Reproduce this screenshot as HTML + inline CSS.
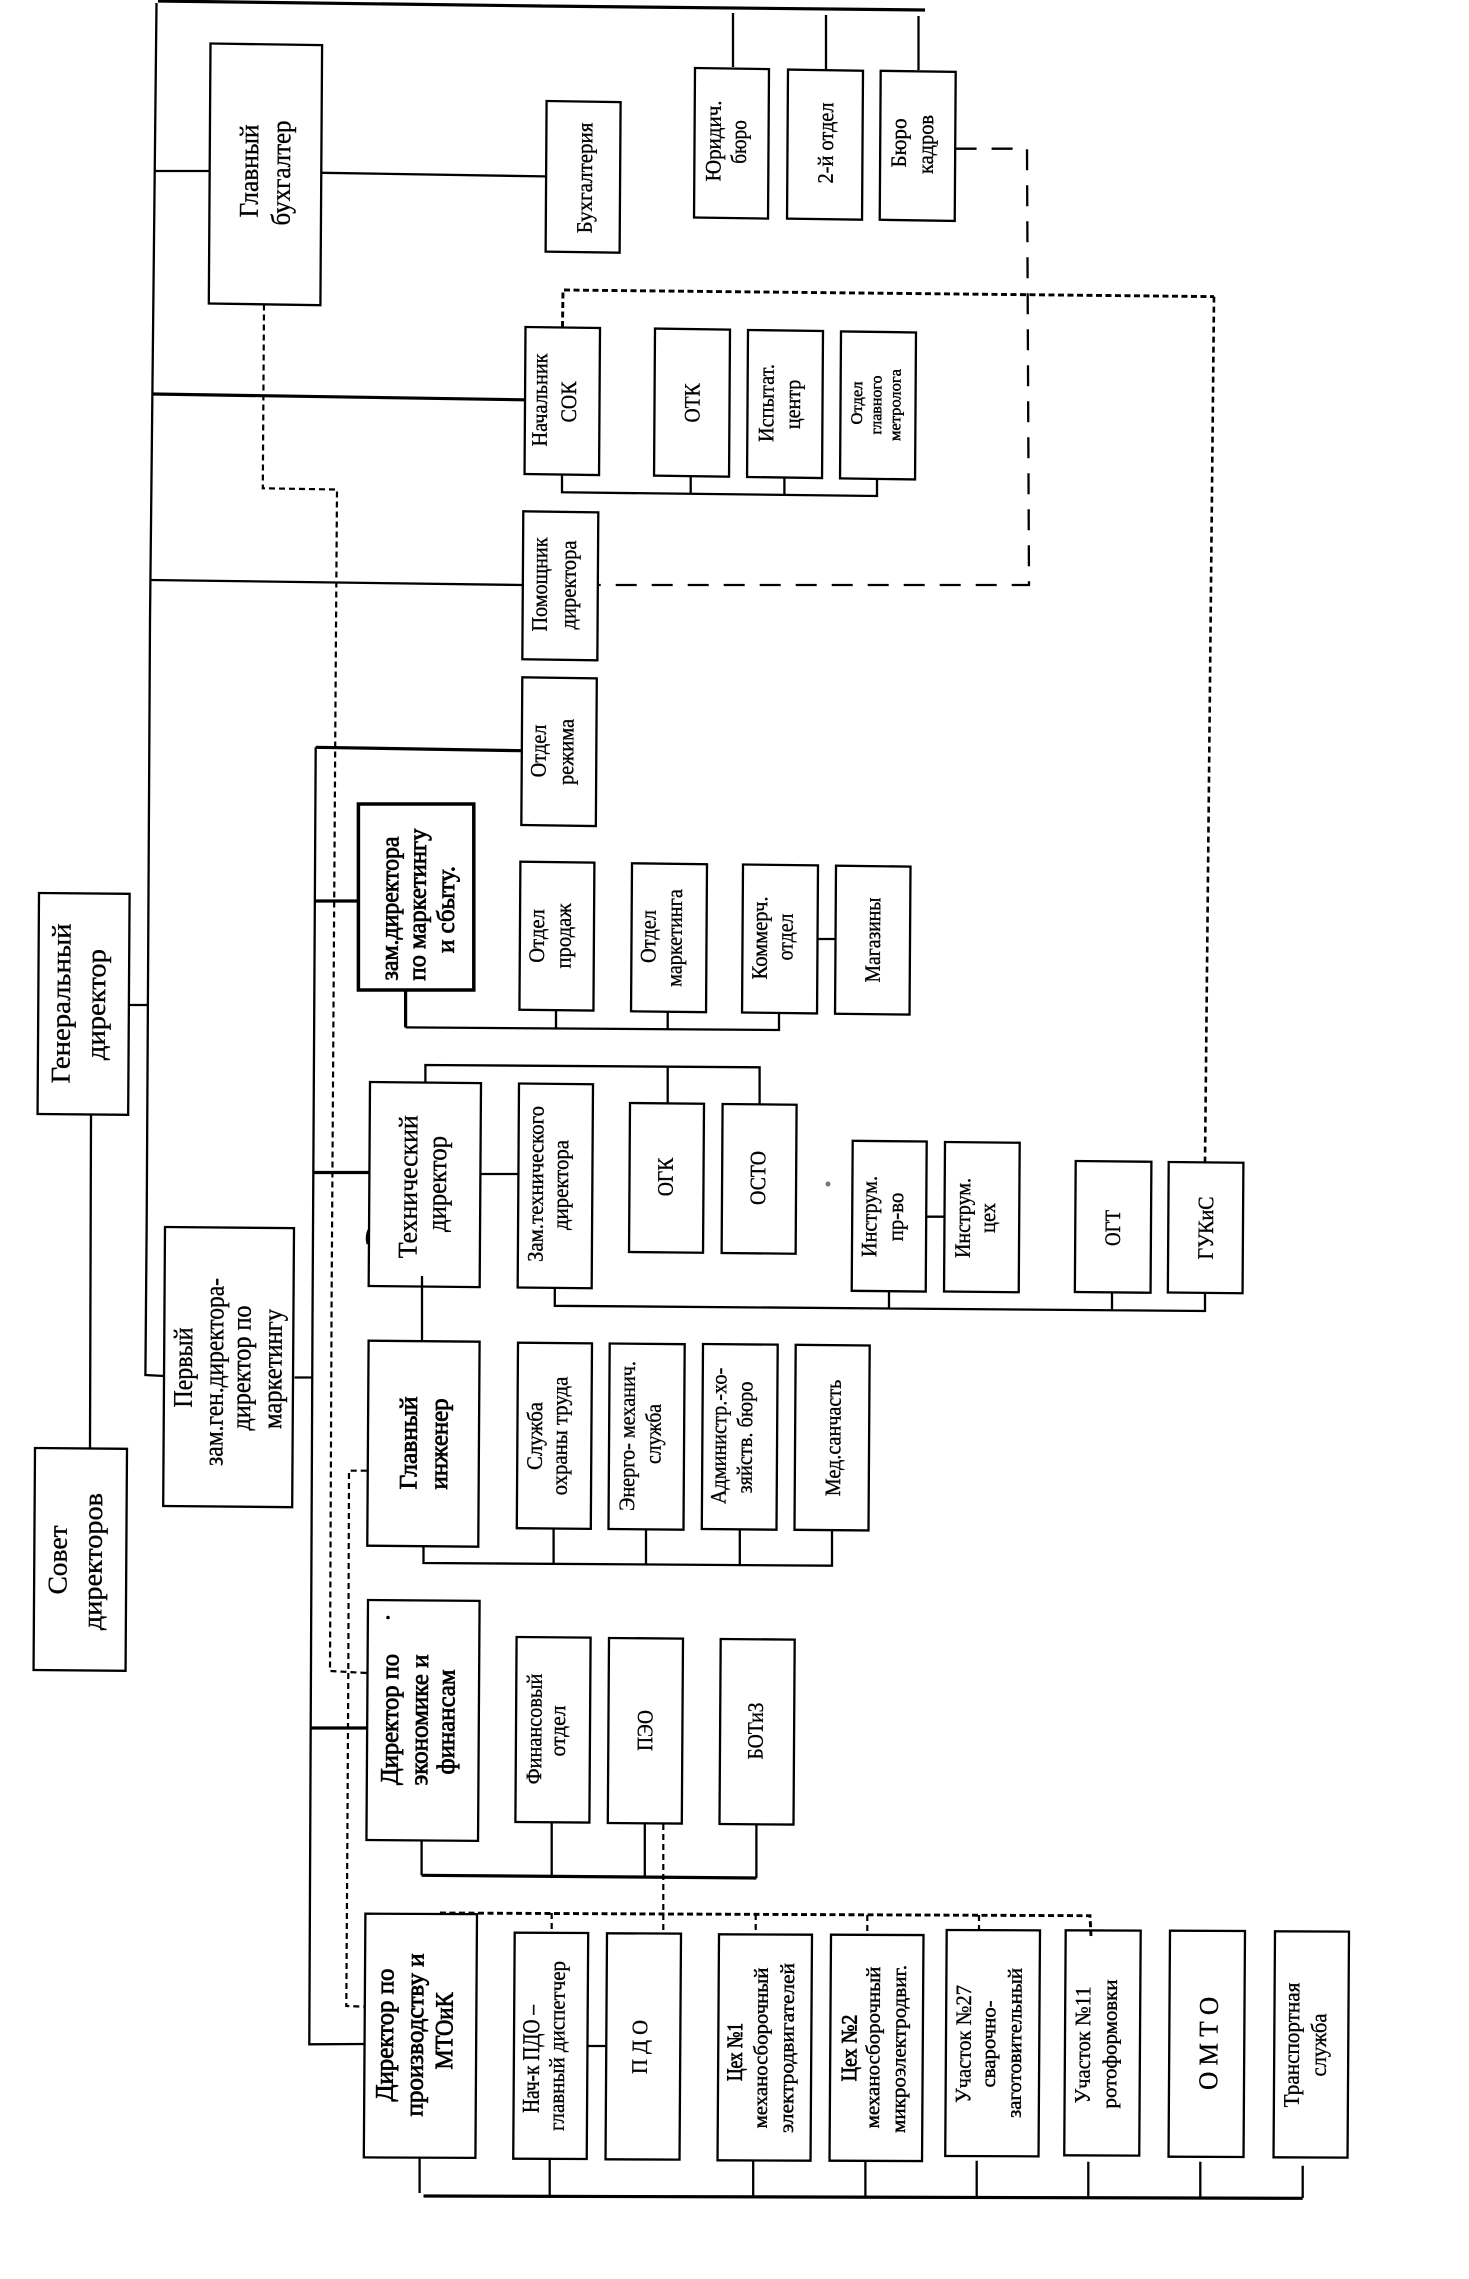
<!DOCTYPE html>
<html><head><meta charset="utf-8"><style>
html,body{margin:0;padding:0;background:#fff}
svg{display:block}
rect{fill:none;stroke:#000;stroke-width:2.300}
path{fill:none;stroke:#000;stroke-width:2.300}
.t{stroke-width:3.200}
.d1{stroke-dasharray:6 4;stroke-width:2.200}
.d2{stroke-dasharray:6 3.500;stroke-width:2.900}
.d3{stroke-dasharray:21 15;stroke-width:2.300}
text{font-family:"Liberation Serif","Noto Serif CJK SC",serif;text-anchor:middle;fill:#000;stroke:#000;stroke-width:.35}
.a{font-size:27px}.b{font-size:22px}.c{font-size:16px;stroke-width:.45}.e{font-size:25px;stroke-width:.8}.s{font-size:20px;stroke-width:.45}
</style></head><body>
<svg width="1469" height="2279" viewBox="0 0 1469 2279" xmlns="http://www.w3.org/2000/svg">
<!-- boxes -->
<g transform="matrix(1,.015,-.0065,1,210.5,43.5)"><rect width="111.6" height="260"/></g>
<g transform="matrix(1,.015,-.0065,1,546.6,101)"><rect width="74" height="150.6"/></g>
<g transform="matrix(1,.015,-.0065,1,695,68)"><rect width="74" height="149.5"/></g>
<g transform="matrix(1,.015,-.0065,1,788,69.6)"><rect width="75" height="149"/></g>
<g transform="matrix(1,.015,-.0065,1,880.7,70.8)"><rect width="75" height="149"/></g>
<g transform="matrix(1,.014,-.0065,1,525.5,327)"><rect width="74.5" height="147"/></g>
<g transform="matrix(1,.014,-.0065,1,655,328.6)"><rect width="75" height="147"/></g>
<g transform="matrix(1,.014,-.0065,1,748,330)"><rect width="75" height="147"/></g>
<g transform="matrix(1,.014,-.0065,1,841,331.4)"><rect width="75" height="147"/></g>
<g transform="matrix(1,.014,-.0065,1,523.3,511.3)"><rect width="75" height="148"/></g>
<g transform="matrix(1,.014,-.0065,1,522.3,677.3)"><rect width="74.5" height="147.7"/></g>
<rect x="358.4" y="804" width="115.4" height="186" style="stroke-width:3.5"/>
<g transform="matrix(1,.012,-.0065,1,520.4,861.7)"><rect width="74" height="148"/></g>
<g transform="matrix(1,.012,-.0065,1,632,863.3)"><rect width="75" height="148"/></g>
<g transform="matrix(1,.012,-.0065,1,743,864.5)"><rect width="75" height="148"/></g>
<g transform="matrix(1,.012,-.0065,1,836,865.7)"><rect width="74.5" height="148"/></g>
<g transform="matrix(1,.01,-.0065,1,370,1082)"><rect width="111" height="204"/></g>
<g transform="matrix(1,.01,-.0065,1,519,1083.5)"><rect width="74" height="204"/></g>
<g transform="matrix(1,.01,-.0065,1,630,1103)"><rect width="74" height="149"/></g>
<g transform="matrix(1,.01,-.0065,1,722.6,1104)"><rect width="74" height="149"/></g>
<g transform="matrix(1,.01,-.0065,1,852.7,1140.8)"><rect width="74" height="150"/></g>
<g transform="matrix(1,.01,-.0065,1,945,1142)"><rect width="74.7" height="149.5"/></g>
<g transform="matrix(1,.01,-.0065,1,1075.7,1161)"><rect width="75.7" height="131"/></g>
<g transform="matrix(1,.01,-.0065,1,1168.7,1162)"><rect width="74.7" height="130.5"/></g>
<g transform="matrix(1,.009,-.0065,1,165,1227)"><rect width="129" height="279"/></g>
<g transform="matrix(1,.009,-.0065,1,39,893)"><rect width="90.6" height="221"/></g>
<g transform="matrix(1,.009,-.0065,1,35,1448)"><rect width="92" height="222"/></g>
<g transform="matrix(1,.009,-.0065,1,368.6,1340.7)"><rect width="111" height="205"/></g>
<g transform="matrix(1,.009,-.0065,1,518,1342.7)"><rect width="74" height="185.5"/></g>
<g transform="matrix(1,.009,-.0065,1,609.7,1343.5)"><rect width="75" height="185.5"/></g>
<g transform="matrix(1,.009,-.0065,1,703,1344)"><rect width="74.7" height="185"/></g>
<g transform="matrix(1,.009,-.0065,1,795.7,1344.8)"><rect width="74" height="185"/></g>
<g transform="matrix(1,.008,-.0065,1,368,1600)"><rect width="111.6" height="240"/></g>
<g transform="matrix(1,.008,-.0065,1,516.6,1637)"><rect width="74" height="185"/></g>
<g transform="matrix(1,.008,-.0065,1,609,1638)"><rect width="74" height="185"/></g>
<g transform="matrix(1,.008,-.0065,1,720.7,1639)"><rect width="74" height="185"/></g>
<g transform="matrix(1,.004,-.0065,1,365.4,1913.7)"><rect width="111.6" height="243.7"/></g>
<g transform="matrix(1,.004,-.0065,1,514.7,1932.7)"><rect width="73.5" height="226"/></g>
<g transform="matrix(1,.004,-.0065,1,607,1933.3)"><rect width="74" height="226"/></g>
<g transform="matrix(1,.004,-.0065,1,719,1934.3)"><rect width="93" height="226"/></g>
<g transform="matrix(1,.004,-.0065,1,831,1934.7)"><rect width="92.5" height="226"/></g>
<g transform="matrix(1,.004,-.0065,1,946.7,1930)"><rect width="93.3" height="226"/></g>
<g transform="matrix(1,.004,-.0065,1,1065.7,1930.3)"><rect width="75" height="225"/></g>
<g transform="matrix(1,.004,-.0065,1,1170,1930.7)"><rect width="75" height="226"/></g>
<g transform="matrix(1,.004,-.0065,1,1275,1931.3)"><rect width="74" height="226"/></g>
<!-- solid connectors -->
<path class="t" d="M158 1 L542 6 M542 6 L925 10"/>
<path d="M156.500 3 L150 620 L146.700 1220 L145.400 1375 L164.500 1376"/>
<path d="M155 171 H209 M322 172.800 L545 176.400 M150 580 L523 585"/>
<path class="t" d="M153 394 L524 399.800"/>
<path d="M733 13 V67 M826 15 V69 M918.500 16 V70"/>
<path d="M562 474.500 V492.300 L877 496 V478.500 M690.700 475.700 V493.500 M784.400 477 V494.700"/>
<path class="t" d="M315.700 747.300 L521.700 750.700"/>
<path d="M315.700 747.300 L312.500 1320 L309.300 2044.300 L365.400 2044"/>
<path class="t" d="M315.700 901 H358"/>
<path class="t" d="M405.600 990 V1027.400"/>
<path d="M405.600 1027.400 L779 1030 V1012.500 M556 1010 V1028.500 M667.700 1011.600 V1029.400 M817.600 939 H835.500"/>
<path d="M129.500 1005 H148 M91 1114 L90 1448 M294.600 1377.500 H312.500"/>
<path class="t" d="M313.800 1172.500 H368.600"/>
<path d="M481.500 1174 H518.500 M425.400 1082 V1065 L759.600 1067.300 V1104 M667.700 1066 V1103"/>
<path d="M422 1276 V1340.700 M554.800 1287.600 V1305.800 L1205 1311 V1292.600 M889 1290.600 V1309 M1112 1292.600 V1310.400 M927 1216.700 H945"/>
<path d="M423.500 1546 V1563 L832 1565.700 V1530 M553.600 1528 V1564 M646 1529 V1564.500 M739.800 1529.300 V1565"/>
<path class="t" d="M310.600 1728 H366.700"/>
<path d="M421.600 1840 V1875.300 M551.700 1822 V1875.500 M644.800 1823 V1876.500 M756.400 1824 V1878"/>
<path class="t" d="M421.600 1875.300 L756.400 1878"/>
<path d="M588 2046 H607 M419.600 2157 V2193"/>
<path class="t" d="M423.500 2196 L1302.700 2198.300"/>
<path d="M549.700 2159 V2196.700 M753.200 2160 V2197 M865.400 2160.700 V2197 M976.700 2160.700 V2198 M1088.300 2161.700 V2198 M1200.300 2161.700 V2198 M1302.700 2165.700 V2198"/>
<!-- dashed connectors -->
<path class="d1" d="M264 304.500 L262.800 488.300 L337 489.500 L335.500 700 L331.600 1300 L330 1671 L366.700 1673"/>
<path class="d1" d="M366.700 1470.700 H349 L348.300 1671.700 L347.600 1800 L346.300 2006 L365.400 2006.700"/>
<path class="d2" d="M440 1913 L663 1914 L1090 1915.700 L1091 1936"/>
<path class="d1" d="M551.700 1913 V1932 M663.300 1824 V1933 M755.700 1914 V1933 M867.300 1915 V1933 M979 1915 V1935"/>
<path class="d2" d="M562.500 327 L563 290 L1214 296.600"/>
<path class="d1" style="stroke-width:2.600" d="M1214 296.600 L1205 1162"/>
<path class="d3" d="M955.600 148.700 H1027 L1029 585 H598"/>
<!-- specks -->
<path d="M369 1230 q-3 7 -1 14" style="stroke-width:3"/>
<circle cx="828" cy="1184" r="2.500" fill="#777"/><circle cx="388" cy="1617.500" r="1.800"/>
<!-- labels -->
<text class="a" transform="translate(258,171) rotate(-89.6)" textLength="93" lengthAdjust="spacingAndGlyphs">Главный</text>
<text class="a" transform="translate(290,173) rotate(-89.6)" textLength="105" lengthAdjust="spacingAndGlyphs">бухгалтер</text>
<text class="b" transform="translate(592,178) rotate(-89.6)" textLength="110.700" lengthAdjust="spacingAndGlyphs">Бухгалтерия</text>
<text class="b" transform="translate(720.600,141) rotate(-89.6)" textLength="81" lengthAdjust="spacingAndGlyphs">Юридич.</text>
<text class="b" transform="translate(746,142) rotate(-89.6)" textLength="43.500" lengthAdjust="spacingAndGlyphs">бюро</text>
<text class="b" transform="translate(833,143) rotate(-89.6)" textLength="81" lengthAdjust="spacingAndGlyphs">2-й отдел</text>
<text class="b" transform="translate(906,143) rotate(-89.6)" textLength="49" lengthAdjust="spacingAndGlyphs">Бюро</text>
<text class="b" transform="translate(933,144.500) rotate(-89.6)" textLength="59" lengthAdjust="spacingAndGlyphs">кадров</text>
<text class="b" transform="translate(547,400) rotate(-89.6)" textLength="93" lengthAdjust="spacingAndGlyphs">Начальник</text>
<text class="b" transform="translate(576,402) rotate(-89.6)" textLength="41" lengthAdjust="spacingAndGlyphs">СОК</text>
<text class="b" transform="translate(699.500,403) rotate(-89.6)" textLength="39" lengthAdjust="spacingAndGlyphs">ОТК</text>
<text class="b" transform="translate(773.500,403) rotate(-89.6)" textLength="78" lengthAdjust="spacingAndGlyphs">Испытат.</text>
<text class="b" transform="translate(800,404.400) rotate(-89.6)" textLength="49.400" lengthAdjust="spacingAndGlyphs">центр</text>
<text class="c" transform="translate(862,403) rotate(-89.6)" textLength="43" lengthAdjust="spacingAndGlyphs">Отдел</text>
<text class="c" transform="translate(881.300,405) rotate(-89.6)" textLength="59" lengthAdjust="spacingAndGlyphs">главного</text>
<text class="c" transform="translate(900.400,405) rotate(-89.6)" textLength="72" lengthAdjust="spacingAndGlyphs">метролога</text>
<text class="b" transform="translate(547,584.500) rotate(-89.6)" textLength="94" lengthAdjust="spacingAndGlyphs">Помощник</text>
<text class="b" transform="translate(575.700,585) rotate(-89.6)" textLength="89" lengthAdjust="spacingAndGlyphs">директора</text>
<text class="b" transform="translate(545.700,751) rotate(-89.6)" textLength="52.700" lengthAdjust="spacingAndGlyphs">Отдел</text>
<text class="b" transform="translate(573.300,752) rotate(-89.6)" textLength="66" lengthAdjust="spacingAndGlyphs">режима</text>
<text class="e" transform="translate(398,908.500) rotate(-89.6)" textLength="144" lengthAdjust="spacingAndGlyphs">зам.директора</text>
<text class="e" transform="translate(425.600,904.600) rotate(-89.6)" textLength="152" lengthAdjust="spacingAndGlyphs">по маркетингу</text>
<text class="e" transform="translate(454,909.500) rotate(-89.6)" textLength="87" lengthAdjust="spacingAndGlyphs">и  сбыту.</text>
<text class="b" transform="translate(544,936) rotate(-89.6)" textLength="53.400" lengthAdjust="spacingAndGlyphs">Отдел</text>
<text class="b" transform="translate(570.700,936) rotate(-89.6)" textLength="65" lengthAdjust="spacingAndGlyphs">продаж</text>
<text class="b" transform="translate(655.500,936.500) rotate(-89.6)" textLength="53" lengthAdjust="spacingAndGlyphs">Отдел</text>
<text class="b" transform="translate(681.700,938) rotate(-89.6)" textLength="97.700" lengthAdjust="spacingAndGlyphs">маркетинга</text>
<text class="b" transform="translate(767,938) rotate(-89.6)" textLength="83" lengthAdjust="spacingAndGlyphs">Коммерч.</text>
<text class="b" transform="translate(792.600,937) rotate(-89.6)" textLength="47" lengthAdjust="spacingAndGlyphs">отдел</text>
<text class="b" transform="translate(880,940) rotate(-89.6)" textLength="85" lengthAdjust="spacingAndGlyphs">Магазины</text>
<text class="a" transform="translate(70,1003.500) rotate(-89.6)" textLength="160" lengthAdjust="spacingAndGlyphs">Генеральный</text>
<text class="a" transform="translate(105,1004.600) rotate(-89.6)" textLength="111" lengthAdjust="spacingAndGlyphs">директор</text>
<text class="a" transform="translate(417,1186.800) rotate(-89.6)" textLength="143" lengthAdjust="spacingAndGlyphs">Технический</text>
<text class="a" transform="translate(446,1184) rotate(-89.6)" textLength="96" lengthAdjust="spacingAndGlyphs">директор</text>
<text class="b" transform="translate(543,1184) rotate(-89.6)" textLength="156" lengthAdjust="spacingAndGlyphs">Зам.технического</text>
<text class="b" transform="translate(568,1185) rotate(-89.6)" textLength="90" lengthAdjust="spacingAndGlyphs">директора</text>
<text class="b" transform="translate(672.700,1177) rotate(-89.6)" textLength="38.400" lengthAdjust="spacingAndGlyphs">ОГК</text>
<text class="b" transform="translate(765.200,1178) rotate(-89.6)" textLength="54" lengthAdjust="spacingAndGlyphs">ОСТО</text>
<text class="b" transform="translate(876.500,1216.500) rotate(-89.6)" textLength="81" lengthAdjust="spacingAndGlyphs">Инструм.</text>
<text class="b" transform="translate(903,1217) rotate(-89.6)" textLength="48.600" lengthAdjust="spacingAndGlyphs">пр-во</text>
<text class="b" transform="translate(970,1218) rotate(-89.6)" textLength="80" lengthAdjust="spacingAndGlyphs">Инструм.</text>
<text class="b" transform="translate(995,1218) rotate(-89.6)" textLength="30" lengthAdjust="spacingAndGlyphs">цех</text>
<text class="b" transform="translate(1120,1228) rotate(-89.6)" textLength="36" lengthAdjust="spacingAndGlyphs">ОГТ</text>
<text class="b" transform="translate(1213,1228) rotate(-89.6)" textLength="63" lengthAdjust="spacingAndGlyphs">ГУКиС</text>
<text class="b" transform="translate(726,1436) rotate(-89.6)" textLength="136.400" lengthAdjust="spacingAndGlyphs">Администр.-хо-</text>
<text class="b" transform="translate(752,1437.500) rotate(-89.6)" textLength="112" lengthAdjust="spacingAndGlyphs">зяйств. бюро</text>
<text class="b" transform="translate(840.400,1438) rotate(-89.6)" textLength="116.600" lengthAdjust="spacingAndGlyphs">Мед.санчасть</text>
<text class="a" transform="translate(192,1367.600) rotate(-89.6)" textLength="80" lengthAdjust="spacingAndGlyphs">Первый</text>
<text class="a" transform="translate(223,1372) rotate(-89.6)" textLength="188" lengthAdjust="spacingAndGlyphs">зам.ген.директора-</text>
<text class="a" transform="translate(250.300,1368) rotate(-89.6)" textLength="125" lengthAdjust="spacingAndGlyphs">директор по</text>
<text class="a" transform="translate(281.500,1369) rotate(-89.6)" textLength="120" lengthAdjust="spacingAndGlyphs">маркетингу</text>
<text class="e" transform="translate(416.700,1443) rotate(-89.6)" textLength="93" lengthAdjust="spacingAndGlyphs">Главный</text>
<text class="e" transform="translate(447.300,1444) rotate(-89.6)" textLength="91" lengthAdjust="spacingAndGlyphs">инженер</text>
<text class="b" transform="translate(542,1436) rotate(-89.6)" textLength="68" lengthAdjust="spacingAndGlyphs">Служба</text>
<text class="b" transform="translate(567,1436) rotate(-89.6)" textLength="118.700" lengthAdjust="spacingAndGlyphs">охраны труда</text>
<text class="b" transform="translate(634.500,1436) rotate(-89.6)" textLength="150" lengthAdjust="spacingAndGlyphs">Энерго- механич.</text>
<text class="b" transform="translate(660.600,1434) rotate(-89.6)" textLength="60" lengthAdjust="spacingAndGlyphs">служба</text>
<text class="a" transform="translate(66.600,1560) rotate(-89.6)" textLength="69" lengthAdjust="spacingAndGlyphs">Совет</text>
<text class="a" transform="translate(101.700,1561.600) rotate(-89.6)" textLength="137" lengthAdjust="spacingAndGlyphs">директоров</text>
<text class="e" transform="translate(398,1719.500) rotate(-89.6)" textLength="131" lengthAdjust="spacingAndGlyphs">Директор по</text>
<text class="e" transform="translate(427.600,1720) rotate(-89.6)" textLength="131" lengthAdjust="spacingAndGlyphs">экономике и</text>
<text class="e" transform="translate(454.300,1722) rotate(-89.6)" textLength="105" lengthAdjust="spacingAndGlyphs">финансам</text>
<text class="b" transform="translate(541.400,1729) rotate(-89.6)" textLength="110.700" lengthAdjust="spacingAndGlyphs">Финансовый</text>
<text class="b" transform="translate(565,1731) rotate(-89.6)" textLength="51" lengthAdjust="spacingAndGlyphs">отдел</text>
<text class="b" transform="translate(652.300,1730.500) rotate(-89.6)" textLength="40.700" lengthAdjust="spacingAndGlyphs">ПЭО</text>
<text class="b" transform="translate(762.700,1731) rotate(-89.6)" textLength="57" lengthAdjust="spacingAndGlyphs">БОТиЗ</text>
<text class="e" transform="translate(393,2035) rotate(-89.6)" textLength="133" lengthAdjust="spacingAndGlyphs">Директор по</text>
<text class="e" transform="translate(423,2035) rotate(-89.6)" textLength="163" lengthAdjust="spacingAndGlyphs">производству и</text>
<text class="e" transform="translate(452.400,2031) rotate(-89.6)" textLength="77" lengthAdjust="spacingAndGlyphs">МТОиК</text>
<text class="s" style="font-size:24px" transform="translate(539,2059) rotate(-89.6)" textLength="108" lengthAdjust="spacingAndGlyphs">Нач-к ПДО –</text>
<text class="b" transform="translate(564.300,2046) rotate(-89.6)" textLength="170" lengthAdjust="spacingAndGlyphs">главный диспетчер</text>
<text class="b" transform="translate(647,2047) rotate(-89.6)" textLength="54" lengthAdjust="spacingAndGlyphs">П Д О</text>
<text class="b" style="stroke-width:.8" transform="translate(742,2052) rotate(-89.6)" textLength="58" lengthAdjust="spacingAndGlyphs">Цех №1</text>
<text class="s" transform="translate(767.300,2048) rotate(-89.6)" textLength="160.700" lengthAdjust="spacingAndGlyphs">механосборочный</text>
<text class="s" transform="translate(793.500,2048) rotate(-89.6)" textLength="170" lengthAdjust="spacingAndGlyphs">электродвигателей</text>
<text class="b" style="stroke-width:.8" transform="translate(856.400,2048) rotate(-89.6)" textLength="66.700" lengthAdjust="spacingAndGlyphs">Цех №2</text>
<text class="s" transform="translate(879.500,2047.500) rotate(-89.6)" textLength="161.700" lengthAdjust="spacingAndGlyphs">механосборочный</text>
<text class="s" transform="translate(905.500,2049) rotate(-89.6)" textLength="168" lengthAdjust="spacingAndGlyphs">микроэлектродвиг.</text>
<text class="b" transform="translate(970.700,2044) rotate(-89.6)" textLength="118" lengthAdjust="spacingAndGlyphs">Участок №27</text>
<text class="s" transform="translate(995.200,2044) rotate(-89.6)" textLength="87" lengthAdjust="spacingAndGlyphs">сварочно-</text>
<text class="s" transform="translate(1021.200,2043) rotate(-89.6)" textLength="150" lengthAdjust="spacingAndGlyphs">заготовительный</text>
<text class="b" transform="translate(1090,2045) rotate(-89.6)" textLength="117" lengthAdjust="spacingAndGlyphs">Участок №11</text>
<text class="s" transform="translate(1116.500,2044) rotate(-89.6)" textLength="129" lengthAdjust="spacingAndGlyphs">ротоформовки</text>
<text class="a" transform="translate(1217.500,2043.500) rotate(-89.6)" textLength="93" lengthAdjust="spacingAndGlyphs">О М Т О</text>
<text class="b" transform="translate(1299,2045) rotate(-89.6)" textLength="124.700" lengthAdjust="spacingAndGlyphs">Транспортная</text>
<text class="b" transform="translate(1326,2045) rotate(-89.6)" textLength="63" lengthAdjust="spacingAndGlyphs">служба</text>
</svg>
</body></html>
